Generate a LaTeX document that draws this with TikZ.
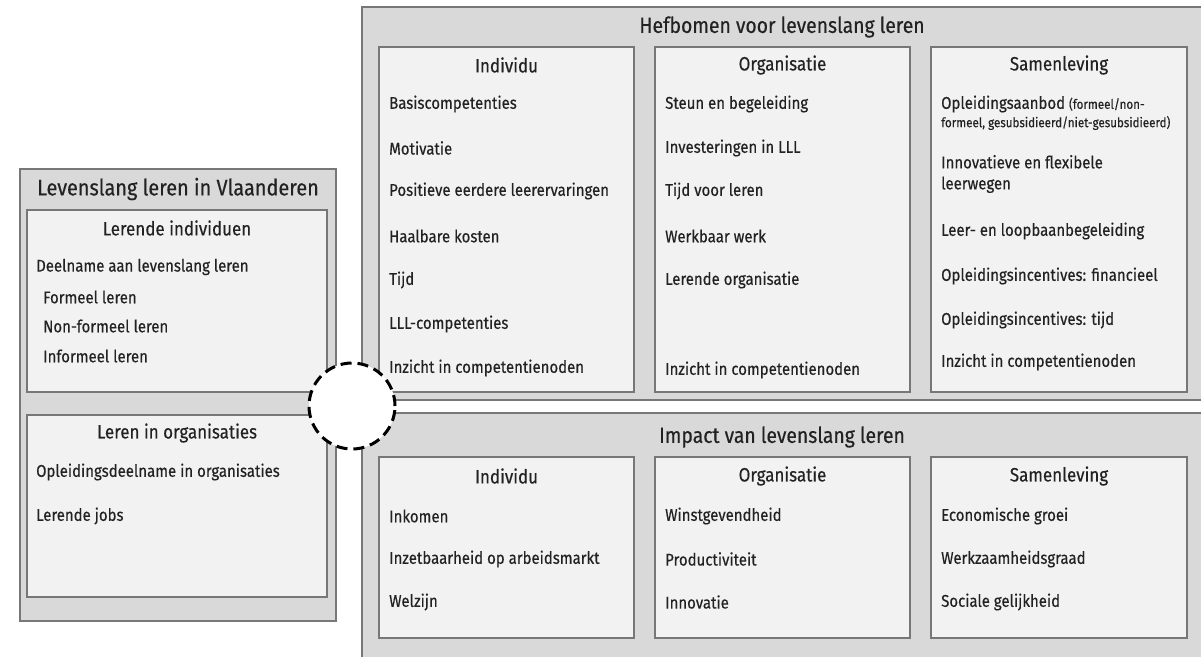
\documentclass[tikz,border=0pt]{standalone}
\usepackage{fontspec}
\setmainfont{Fira Sans}[FakeStretch=0.88,FakeBold=0.4]
\definecolor{outerfill}{HTML}{D9D9D9}
\definecolor{innerfill}{HTML}{F2F2F2}
\definecolor{boxline}{HTML}{777777}
\definecolor{txt}{HTML}{222222}
\begin{document}
\begin{tikzpicture}[x=1pt,y=-1pt,
  outerbox/.style={draw=boxline,fill=outerfill,line width=1.6pt},
  innerbox/.style={draw=boxline,fill=innerfill,line width=1.2pt},
  item/.style={anchor=west,inner sep=0pt,text=txt,font=\fontsize{17}{20}\selectfont},
  smallitem/.style={anchor=west,inner sep=0pt,text=txt,font=\fontsize{13.2}{15}\selectfont},
  coltitle/.style={anchor=center,inner sep=0pt,text=txt,font=\fontsize{19.3}{22}\selectfont},
  maintitle/.style={anchor=center,inner sep=0pt,text=txt,font=\fontsize{22}{25}\selectfont},
  lefttitle/.style={anchor=center,inner sep=0pt,text=txt,font=\fontsize{22.6}{26}\selectfont},
  linkcircle/.style={circle,draw=black,fill=white,line width=3pt,dash pattern=on 11pt off 6pt,minimum size=86pt,inner sep=0pt}
]
\useasboundingbox (0,0) rectangle (1201,656);
\clip (0,0) rectangle (1201,656);
\fill[white] (0,0) rectangle (1201,656);

% ---------- left block ----------
\draw[outerbox] (20,169) rectangle (336,621);
\node[lefttitle] (ltitle) at (178,189) {Levenslang leren in Vlaanderen};
\draw[innerbox] (27,210) rectangle (327,392);
\node[coltitle] (li) at (177,228) {Lerende individuen};
\node[item] (li1) at (36,267) {Deelname aan levenslang leren};
\node[item] (li2) at (43,297) {Formeel leren};
\node[item] (li3) at (43,326) {Non-formeel leren};
\node[item] (li4) at (43,356) {Informeel leren};
\draw[innerbox] (27,415) rectangle (327,597);
\node[coltitle] (lo) at (177,433) {Leren in organisaties};
\node[item] (lo1) at (36,472) {Opleidingsdeelname in organisaties};
\node[item] (lo2) at (36,516) {Lerende jobs};

% ---------- Hefbomen ----------
\draw[outerbox] (362,7) rectangle (1215,400);
\node[maintitle] (htitle) at (782,27) {Hefbomen voor levenslang leren};
\draw[innerbox] (379,47) rectangle (634,392);
\draw[innerbox] (655,47) rectangle (910,392);
\draw[innerbox] (931,47) rectangle (1187,392);
\node[coltitle] (hi) at (506.5,65) {Individu};
\node[coltitle] (ho) at (782.5,65) {Organisatie};
\node[coltitle] (hs) at (1059,65) {Samenleving};

\node[item] (hi1) at (389,104) {Basiscompetenties};
\node[item] (hi2) at (389,148) {Motivatie};
\node[item] (hi3) at (389,191) {Positieve eerdere leerervaringen};
\node[item] (hi4) at (389,236) {Haalbare kosten};
\node[item] (hi5) at (389,280) {Tijd};
\node[item] (hi6) at (389,324) {LLL-competenties};
\node[item] (hi7) at (389,368) {Inzicht in competentienoden};

\node[item] (ho1) at (665,104) {Steun en begeleiding};
\node[item] (ho2) at (665,148) {Investeringen in LLL};
\node[item] (ho3) at (665,191) {Tijd voor leren};
\node[item] (ho4) at (665,236) {Werkbaar werk};
\node[item] (ho5) at (665,280) {Lerende organisatie};
\node[item] (ho6) at (665,370) {Inzicht in competentienoden};

\node[item] (hs1) at (941,104) {Opleidingsaanbod {\fontsize{13.2}{15}\selectfont (formeel/non-}};
\node[smallitem] (hs1b) at (941,123) {formeel, gesubsidieerd/niet-gesubsidieerd)};
\node[item,align=left] (hs2) at (941,174) {Innovatieve en flexibele\\[1pt]leerwegen};
\node[item] (hs3) at (941,231) {Leer- en loopbaanbegeleiding};
\node[item] (hs4) at (941,276) {Opleidingsincentives: financieel};
\node[item] (hs5) at (941,320) {Opleidingsincentives: tijd};
\node[item] (hs6) at (941,362) {Inzicht in competentienoden};

% ---------- Impact ----------
\draw[outerbox] (362,413) rectangle (1215,670);
\node[maintitle] (ititle) at (782,437) {Impact van levenslang leren};
\draw[innerbox] (379,457) rectangle (634,638);
\draw[innerbox] (655,457) rectangle (910,638);
\draw[innerbox] (931,457) rectangle (1187,638);
\node[coltitle] (ii) at (506.5,476) {Individu};
\node[coltitle] (io) at (782.5,476) {Organisatie};
\node[coltitle] (is) at (1059,476) {Samenleving};

\node[item] (ii1) at (389,516) {Inkomen};
\node[item] (ii2) at (389,559) {Inzetbaarheid op arbeidsmarkt};
\node[item] (ii3) at (389,602) {Welzijn};
\node[item] (io1) at (665,516) {Winstgevendheid};
\node[item] (io2) at (665,559) {Productiviteit};
\node[item] (io3) at (665,602) {Innovatie};
\node[item] (is1) at (941,516) {Economische groei};
\node[item] (is2) at (941,559) {Werkzaamheidsgraad};
\node[item] (is3) at (941,602) {Sociale gelijkheid};

% ---------- dashed link circle ----------
\node[linkcircle] (link) at (352,406) {};
\end{tikzpicture}
\end{document}
